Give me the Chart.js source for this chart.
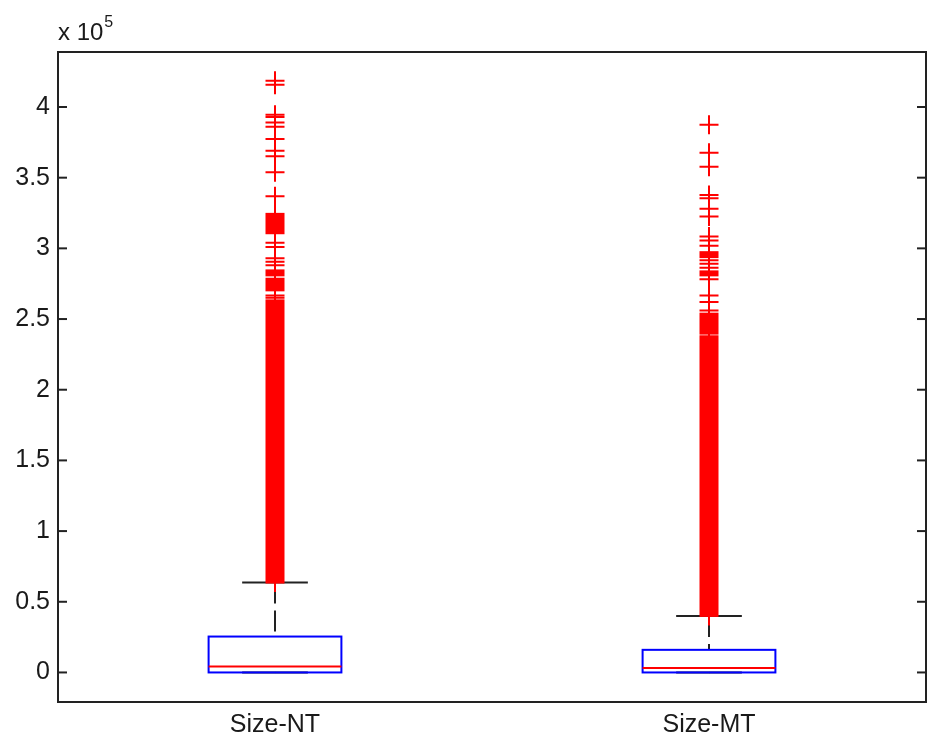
<!DOCTYPE html>
<html>
<head>
<meta charset="utf-8">
<script src="https://cdn.jsdelivr.net/npm/chart.js@4.4.1/dist/chart.umd.min.js"></script>
<style>
  html, body { margin: 0; padding: 0; background: #ffffff; }
  #wrap { width: 932px; height: 744px; }
</style>
</head>
<body>
<div id="wrap"><canvas id="c" width="932" height="744"></canvas></div>
<script>
// Box plot of transfer sizes; all values are in units of 10^5.
const categories = ['Size-NT', 'Size-MT'];
const lowerWhisker = [0, 0];
const q1 = [0, 0];
const median = [0.042, 0.031];
const q3 = [0.254, 0.160];
const upperWhisker = [0.636, 0.400];

// Individual outliers above the upper whisker
const outliersNT = [4.186, 4.157, 3.945, 3.930, 3.891, 3.861, 3.774, 3.691, 3.651,
  3.538, 3.369, 3.040, 3.010, 2.930, 2.905, 2.880, 2.667, 2.651];
const outliersMT = [3.875, 3.677, 3.578, 3.378, 3.355, 3.280, 3.225, 3.084, 3.056,
  3.018, 2.915, 2.891, 2.862, 2.782, 2.667, 2.620, 2.561];

// Value ranges packed so densely with outliers that their markers merge
const denseNT = [[0.636, 2.632], [2.703, 2.785], [2.809, 2.844], [3.107, 3.244]];
const denseMT = [[0.400, 2.378], [2.397, 2.538], [2.809, 2.837], [2.938, 2.973]];

const yTicks = [0, 0.5, 1, 1.5, 2, 2.5, 3, 3.5, 4];
const yRange = [-0.209, 4.389];

// ---- styling ----
const FONT = "'Liberation Sans', Arial, Helvetica, sans-serif";
const TEXT = '#1a1a1a';
const AXIS = '#222222';
const RED = '#ff0000';
const BLUE = '#0000ff';
const BOX_HALF = 0.153;    // half box width, in category units
const CAP_HALF = 0.0757;   // half whisker-cap width, in category units
const MARK_R = 9.5;        // outlier marker radius, px
const TICK_LEN = 9;
const FONT_SIZE = 25;

const outlierSets = [outliersNT, outliersMT];
const denseSets = [denseNT, denseMT];

function seg(ctx, x0, y0, x1, y1) {
  ctx.beginPath(); ctx.moveTo(x0, y0); ctx.lineTo(x1, y1); ctx.stroke();
}

const boxPlot = {
  id: 'boxPlot',
  beforeDatasetsDraw(chart) {
    const { ctx, scales: { x, y }, chartArea: a } = chart;
    ctx.save();
    ctx.beginPath(); ctx.rect(a.left, a.top, a.right - a.left, a.bottom - a.top); ctx.clip();
    categories.forEach((c, i) => {
      const cx = x.getPixelForValue(i + 1);
      const hw = x.getPixelForValue(i + 1 + BOX_HALF) - cx;
      const cw = x.getPixelForValue(i + 1 + CAP_HALF) - cx;
      const yU = y.getPixelForValue(upperWhisker[i]);
      const yL = y.getPixelForValue(lowerWhisker[i]);
      const yQ1 = y.getPixelForValue(q1[i]);
      const yQ3 = y.getPixelForValue(q3[i]);
      const yM = y.getPixelForValue(median[i]);
      // whiskers (dashed) and caps
      ctx.strokeStyle = AXIS; ctx.lineWidth = 2;
      ctx.setLineDash([21, 7]);
      seg(ctx, cx, yU, cx, yQ3);
      seg(ctx, cx, yL, cx, yQ1);
      ctx.setLineDash([]);
      seg(ctx, cx - cw, yU, cx + cw, yU);
      seg(ctx, cx - cw, yL, cx + cw, yL);
      // box
      ctx.strokeStyle = BLUE; ctx.lineWidth = 2;
      ctx.strokeRect(cx - hw, yQ3, 2 * hw, yQ1 - yQ3);
      // median
      ctx.strokeStyle = RED;
      seg(ctx, cx - hw, yM, cx + hw, yM);
      // dense outlier ranges
      ctx.fillStyle = RED; ctx.strokeStyle = RED;
      denseSets[i].forEach(([lo, hi]) => {
        const yLo = y.getPixelForValue(lo);
        const yHi = y.getPixelForValue(hi);
        ctx.fillRect(cx - MARK_R, yHi - 1, 2 * MARK_R, yLo - yHi + 2);
        seg(ctx, cx, yHi - MARK_R, cx, yLo + MARK_R);
      });
    });
    ctx.restore();
  },
  afterDraw(chart) {
    const { ctx, scales: { y }, chartArea: a } = chart;
    ctx.save();
    ctx.strokeStyle = AXIS; ctx.lineWidth = 2;
    ctx.strokeRect(a.left, a.top, a.right - a.left, a.bottom - a.top);
    y.ticks.forEach(t => {
      const py = y.getPixelForValue(t.value);
      seg(ctx, a.left, py, a.left + TICK_LEN, py);
      seg(ctx, a.right - TICK_LEN, py, a.right, py);
    });
    // exponent label
    ctx.fillStyle = TEXT;
    ctx.textBaseline = 'alphabetic';
    ctx.font = '24px ' + FONT;
    ctx.fillText('x 10', a.left, 40);
    const w = ctx.measureText('x 10').width;
    ctx.font = '16px ' + FONT;
    ctx.fillText('5', a.left + w + 1, 27);
    ctx.restore();
  }
};

const datasets = categories.map((c, i) => ({
  type: 'scatter',
  label: c,
  data: outlierSets[i].map(v => ({ x: i + 1, y: v })),
  pointStyle: 'cross',
  pointRadius: MARK_R,
  pointBorderWidth: 2,
  borderColor: RED,
  backgroundColor: RED
}));

new Chart(document.getElementById('c'), {
  type: 'scatter',
  data: { datasets },
  plugins: [boxPlot],
  options: {
    responsive: false,
    animation: false,
    devicePixelRatio: 1,
    events: [],
    layout: { autoPadding: false, padding: { top: 52, right: 6, left: 0, bottom: 0 } },
    plugins: { legend: { display: false }, tooltip: { enabled: false } },
    scales: {
      x: {
        type: 'linear', min: 0.5, max: 2.5,
        afterBuildTicks: s => { s.ticks = categories.map((c, i) => ({ value: i + 1 })); },
        afterFit: s => { s.height = 42; s.paddingLeft = 0; s.paddingRight = 0; },
        grid: { display: false, drawTicks: false },
        border: { display: false },
        ticks: { callback: v => categories[Math.round(v) - 1], font: { family: FONT, size: FONT_SIZE }, color: TEXT, padding: 8, maxRotation: 0 }
      },
      y: {
        type: 'linear', min: yRange[0], max: yRange[1],
        afterBuildTicks: s => { s.ticks = yTicks.map(v => ({ value: v })); },
        afterFit: s => { s.width = 58; s.paddingTop = 0; s.paddingBottom = 0; },
        grid: { display: false, drawTicks: false },
        border: { display: false },
        ticks: { callback: v => String(v), font: { family: FONT, size: FONT_SIZE }, color: TEXT, padding: 8 }
      }
    }
  }
});
</script>
</body>
</html>
